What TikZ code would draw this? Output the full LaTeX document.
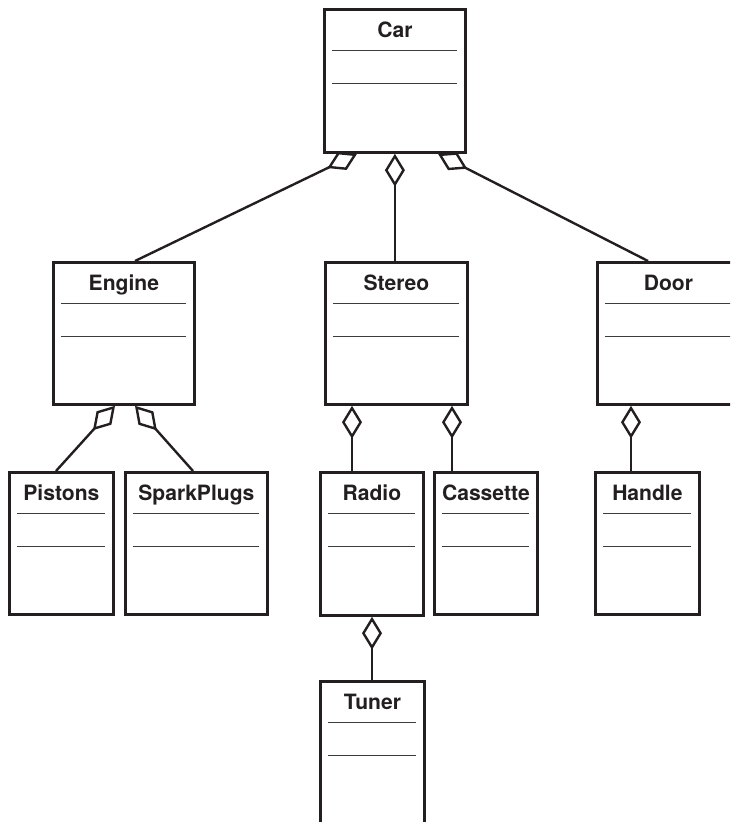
\documentclass[tikz,border=0pt]{standalone}
\usepackage{fontspec}
\setmainfont{TeX Gyre Heros}
\usetikzlibrary{arrows.meta,calc}
\definecolor{umlink}{RGB}{35,31,32}
\definecolor{umlrule}{RGB}{60,60,60}
\tikzset{
  uml/.style={font=\fontsize{15}{18}\selectfont\bfseries, text=umlink},
  umlclass/.style n args={3}{
    draw=umlink, line width=2pt, anchor=north west, inner sep=0pt,
    minimum width=#1*0.025cm, minimum height=#2*0.025cm,
    label={[uml, anchor=base, yshift=-0.725cm]north:#3},
    path picture={
      \draw[umlrule, line width=1pt]
        ($(path picture bounding box.north west)+(8,-41)$) -- ($(path picture bounding box.north east)+(-8,-41)$)
        ($(path picture bounding box.north west)+(8,-74)$) -- ($(path picture bounding box.north east)+(-8,-74)$);
    }
  },
  umlagg/.style={{Diamond[open, length=0.82cm, width=0.5cm]}-, draw=umlink, line width=1.7pt},
}

\begin{document}
\begin{tikzpicture}[x=0.025cm, y=0.025cm, uml]
    \clip (0,0) rectangle (730,-822);

    \node[umlclass={141}{143}{Car}] (car) at (323,-8) {};

    \node[umlclass={141}{142}{Engine}] (engine) at (52,-261) {};
    \node[umlclass={142}{142}{Stereo}] (stereo) at (324,-261) {};
    \node[umlclass={142}{142}{Door}] (door) at (596,-261) {};

    \node[umlclass={104}{142}{Pistons}] (pistons) at (8,-471) {};
    \node[umlclass={142}{142}{SparkPlugs}] (sparkplugs) at (124,-471) {};
    \node[umlclass={103}{143}{Radio}] (radio) at (319,-471) {};
    \node[umlclass={103}{142}{Cassette}] (cassette) at (433,-471) {};
    \node[umlclass={104}{142}{Handle}] (handle) at (594,-471) {};

    \node[umlclass={104}{170}{Tuner}] (tuner) at (319,-680) {};

    \draw[umlagg] ($(car.south west)+(34,0)$) -- ($(engine.north west)+(83,0)$);
    \draw[umlagg] (car.south) -- (car.south |- stereo.north);
    \draw[umlagg] ($(car.south west)+(115,0)$) -- ($(door.north west)+(52,0)$);

    \draw[umlagg] ($(engine.south west)+(63,0)$) -- ($(pistons.north west)+(48,0)$);
    \draw[umlagg] ($(engine.south west)+(83,0)$) -- ($(sparkplugs.north west)+(69,0)$);

    \draw[umlagg] ($(stereo.south west)+(28,0)$) -- ($(radio.north west)+(33,0)$);
    \draw[umlagg] ($(stereo.south west)+(128,0)$) -- ($(cassette.north west)+(19,0)$);
    \draw[umlagg] ($(door.south west)+(35,0)$) -- ($(handle.north west)+(37,0)$);
    \draw[umlagg] ($(radio.south west)+(53,0)$) -- ($(tuner.north west)+(53,0)$);
  \end{tikzpicture}
\end{document}
